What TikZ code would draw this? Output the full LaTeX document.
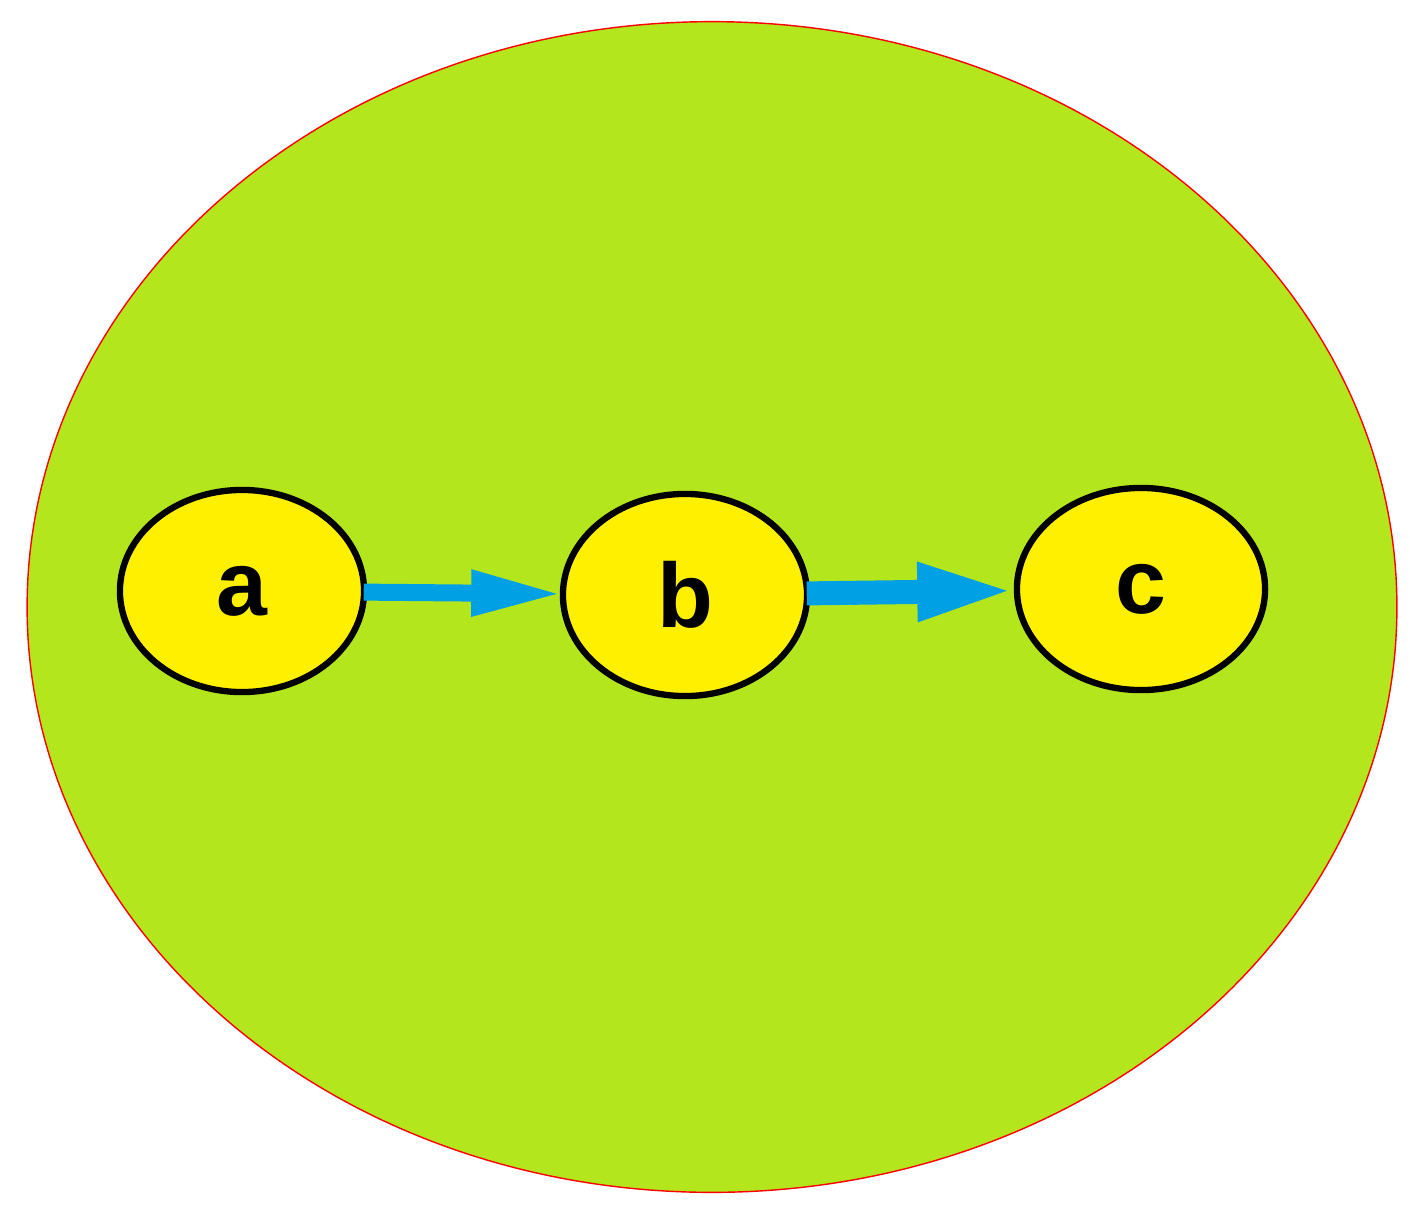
\documentclass[tikz,border=0pt]{standalone}
\usepackage{fontspec}
\setmainfont{Liberation Sans}
\usetikzlibrary{positioning, arrows.meta, shapes}
\definecolor{leaf}{RGB}{180,230,30}
\definecolor{yolk}{RGB}{255,240,0}
\definecolor{sky}{RGB}{0,160,228}

\begin{document}
\begin{tikzpicture}[
    x=0.01cm, y=-0.01cm,
    state/.style={ellipse, draw=black, line width=1.8pt, fill=yolk, minimum width=2.44cm, minimum height=2.02cm, font=\bfseries\fontsize{26}{28}\selectfont, inner sep=0pt},
    flow/.style={-{Triangle[length=0.92cm, width=0.42cm]}, draw=sky, line width=0.17cm, shorten <=-1pt, shorten >=-1pt}
]
    % Frame and background
    \useasboundingbox (0,0) rectangle (1410,1209);
    \node[ellipse, draw=red, thin, fill=leaf, minimum width=13.69cm, minimum height=11.70cm, inner sep=0pt] (world) at (712,607) {};

    % States
    \node[state] (a) at (242,591) {a};
    \node[state] (b) at (685,595) {b};
    \node[state, minimum width=2.48cm] (c) at (1141,589) {c};

    % Transitions
    \draw[flow] (a) -- (b);
    \draw[flow, line width=0.24cm, -{Triangle[length=1.0cm, width=0.52cm]}] (b) -- (c);
\end{tikzpicture}
\end{document}
